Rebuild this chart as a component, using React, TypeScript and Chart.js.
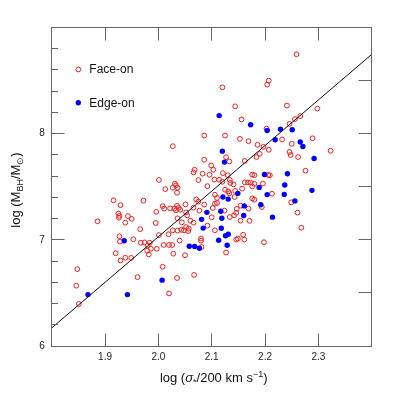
import React, { useEffect, useRef } from "react";
import { Chart, registerables } from "chart.js";

Chart.register(...registerables);

// ---- data ----
const faceOnX = [
  2.027, 2.001, 2.013, 2.027, 2.031, 2.036, 2.035, 2.033, 2.068, 2.066, 2.075,
  1.916, 1.972, 1.929, 1.886, 1.925, 1.927, 1.926, 1.943, 1.95, 1.938, 1.966,
  1.927, 1.928, 1.953, 1.967, 1.974, 1.92, 1.929, 1.938, 1.949, 1.982, 1.848,
  1.846, 1.851, 1.961, 1.996, 1.995, 2.008, 2.022, 2.035, 2.038, 2.03, 2.033,
  2.041, 2.051, 2.052, 2.054, 2.036, 2.044, 2.066, 2.06, 2.011, 2.027, 2.036,
  2.043, 2.048, 2.056, 2.019, 2.001, 2.04, 2.01, 2.02, 2.026, 1.997, 1.984,
  1.98, 1.986, 1.979, 2.028, 2.05, 2.067, 2.008, 2.035, 2.02, 2.086, 2.125,
  2.153, 2.086, 2.099, 2.103, 2.083, 2.096, 2.105, 2.121, 2.13, 2.114, 2.12,
  2.134, 2.135, 2.141, 2.162, 2.092, 2.125, 2.131, 2.133, 2.11, 2.11, 2.071,
  2.075, 2.144, 2.143, 2.066, 2.086, 2.102, 2.077, 2.124, 2.1, 2.154, 2.147,
  2.146, 2.142, 2.134, 2.157, 2.081, 2.08, 2.08, 2.092, 2.106, 2.052, 2.057,
  2.127, 2.159, 2.161, 2.146, 2.149, 2.154, 2.171, 2.106, 2.198, 2.176, 2.18,
  2.106, 2.259, 2.207, 2.204, 2.12, 2.144, 2.241, 2.298, 2.156, 2.256, 2.266,
  2.246, 2.203, 2.169, 2.232, 2.289, 2.25, 2.186, 2.197, 2.207, 2.323, 2.246,
  2.248, 2.262, 2.127, 2.19, 2.184, 2.133, 2.162, 2.276, 2.176, 2.18, 2.206,
  2.209, 2.168, 2.173, 2.18, 2.196, 2.176, 2.213, 2.249, 2.194, 2.169, 2.261,
  2.268,
];
const faceOnY = [
  7.881, 7.563, 7.477, 7.49, 7.528, 7.49, 7.443, 7.512, 7.659, 7.634, 7.562,
  7.371, 7.368, 7.326, 7.174, 7.247, 7.225, 7.208, 7.223, 7.197, 7.161, 7.1,
  7.033, 6.983, 7.005, 6.972, 6.975, 6.873, 6.805, 6.831, 6.829, 6.862, 6.723,
  6.568, 6.396, 6.648, 7.263, 7.158, 7.317, 7.296, 7.321, 7.3, 7.294, 7.277,
  7.282, 7.333, 7.258, 7.23, 7.202, 7.164, 7.161, 7.18, 7.293, 7.089, 7.086,
  7.094, 7.089, 7.082, 7.052, 7.044, 6.992, 6.951, 6.951, 6.951, 6.915, 6.972,
  6.948, 6.915, 6.897, 6.869, 6.854, 6.669, 6.746, 6.64, 6.495, 7.981, 7.981,
  7.95, 7.753, 7.7, 7.659, 7.622, 7.612, 7.566, 7.627, 7.608, 7.565, 7.546,
  7.563, 7.535, 7.521, 7.54, 7.505, 7.471, 7.455, 7.437, 7.394, 7.346, 7.38,
  7.359, 7.46, 7.402, 7.302, 7.331, 7.299, 7.274, 7.274, 7.211, 7.321, 7.291,
  7.254, 7.23, 7.214, 7.481, 6.932, 7.011, 6.991, 7.133, 7.089, 7.12, 7.105,
  6.88, 7.047, 7.002, 7.002, 7.011, 7.18, 7.178, 7.34, 6.977, 7.39, 7.377,
  7.424, 8.746, 8.498, 8.46, 8.435, 8.256, 8.263, 8.235, 8.133, 8.136, 8.164,
  8.091, 8.047, 7.928, 7.944, 7.955, 7.903, 7.894, 7.875, 7.847, 7.838, 7.826,
  7.798, 7.779, 7.777, 7.809, 7.779, 7.737, 7.742, 7.65, 7.613, 7.608, 7.61,
  7.608, 7.54, 7.54, 7.526, 7.529, 7.502, 7.434, 7.352, 7.308, 7.293, 7.255,
  7.113,
];
const edgeOnX = [
  2.114, 2.173, 2.229, 2.251, 2.204, 2.219, 2.266, 2.271, 2.12, 2.124, 2.292,
  2.199, 2.242, 2.237, 2.189, 2.149, 2.204, 2.236, 2.288, 2.121, 2.131, 2.256,
  2.192, 2.161, 2.16, 2.214, 2.091, 2.117, 2.119, 2.081, 2.084, 2.118, 2.131,
  2.126, 2.113, 2.058, 2.068, 2.077, 2.129, 1.936, 1.868, 1.942, 2.007,
];
const edgeOnY = [
  8.169, 8.082, 8.04, 8.035, 8.028, 7.942, 7.92, 7.878, 7.834, 7.731, 7.765,
  7.615, 7.622, 7.516, 7.493, 7.437, 7.425, 7.427, 7.465, 7.402, 7.383, 7.366,
  7.329, 7.319, 7.228, 7.213, 7.258, 7.268, 7.202, 7.192, 7.11, 7.108, 7.052,
  7.038, 6.995, 6.939, 6.936, 6.92, 6.948, 6.991, 6.484, 6.484, 6.62,
];
const fitX = [1.8, 2.4];
const fitY = [6.17, 8.745];

const seriesLabels = ["Face-on", "Edge-on"];
const xTickValues = [1.9, 2.0, 2.1, 2.2, 2.3];
const xTickLabels = ["1.9", "2.0", "2.1", "2.2", "2.3"];
const yTickValues = [6, 7, 8];
const yTickLabels = ["6", "7", "8"];

const FONT = "'Liberation Sans', Arial, Helvetica, sans-serif";
const RED = "#ff1a1a";
const BLUE = "#0000ff";
const FRAME = "#666666";

type Part = { text: string; size: number; dy?: number; italic?: boolean };

function drawParts(ctx: CanvasRenderingContext2D, parts: Part[], cx: number, baseY: number) {
  let total = 0;
  for (const p of parts) {
    ctx.font = `${p.italic ? "italic " : ""}${p.size}px ${FONT}`;
    total += ctx.measureText(p.text).width;
  }
  let x = cx - total / 2;
  ctx.textAlign = "left";
  ctx.textBaseline = "alphabetic";
  for (const p of parts) {
    ctx.font = `${p.italic ? "italic " : ""}${p.size}px ${FONT}`;
    ctx.fillText(p.text, x, baseY + (p.dy || 0));
    x += ctx.measureText(p.text).width;
  }
}

const decorPlugin = {
  id: "decor",
  afterDraw(chart: any) {
    const ctx: CanvasRenderingContext2D = chart.ctx;
    const xs = chart.scales.x;
    const ys = chart.scales.y;
    const { left, right, top, bottom } = chart.chartArea;
    const L = Math.floor(left) + 0.5;
    const R = Math.floor(right) + 0.5;
    const T = Math.floor(top) + 0.5;
    const B = Math.floor(bottom) + 0.5;
    ctx.save();
    ctx.strokeStyle = FRAME;
    ctx.lineWidth = 1;
    ctx.strokeRect(L, T, R - L, B - T);
    ctx.beginPath();
    // bottom & top ticks
    for (const v of xTickValues) {
      const px = Math.floor(xs.getPixelForValue(v)) + 0.5;
      ctx.moveTo(px, B);
      ctx.lineTo(px, B - 13);
      ctx.moveTo(px, T);
      ctx.lineTo(px, T + 13);
    }
    // left ticks (every 0.2, longer at integers)
    for (let i = 1; i < 15; i++) {
      const v = 6 + i * 0.2;
      const py = Math.floor(ys.getPixelForValue(v)) + 0.5;
      const isMajor = i % 5 === 0;
      ctx.moveTo(L, py);
      ctx.lineTo(L + (isMajor ? 13 : 6.5), py);
    }
    // right ticks (every 0.5)
    for (let i = 1; i < 6; i++) {
      const v = 6 + i * 0.5;
      const py = Math.floor(ys.getPixelForValue(v)) + 0.5;
      ctx.moveTo(R, py);
      ctx.lineTo(R - 13, py);
    }
    ctx.stroke();

    // axis titles
    ctx.fillStyle = "#111";
    drawParts(
      ctx,
      [
        { text: "log (", size: 13 },
        { text: "σ", size: 13, italic: true },
        { text: "*", size: 9, dy: 3 },
        { text: "/200 km s", size: 13 },
        { text: "−1", size: 9, dy: -5 },
        { text: ")", size: 13 },
      ],
      (left + right) / 2 + 2,
      382
    );
    ctx.save();
    ctx.translate(20, 190);
    ctx.rotate(-Math.PI / 2);
    drawParts(
      ctx,
      [
        { text: "log (M", size: 13 },
        { text: "BH", size: 9, dy: 3 },
        { text: "/M", size: 13 },
        { text: "⊙", size: 9, dy: 3 },
        { text: ")", size: 13 },
      ],
      0,
      0
    );
    ctx.restore();

    // legend
    const ds = chart.data.datasets;
    const entries = [
      { d: ds[2], y: 69.5 },
      { d: ds[1], y: 102.7 },
    ];
    for (const e of entries) {
      ctx.beginPath();
      ctx.arc(78.3, e.y, e.d.pointRadius, 0, Math.PI * 2);
      if (e.d.backgroundColor !== "transparent") {
        ctx.fillStyle = e.d.backgroundColor;
        ctx.fill();
      } else {
        ctx.strokeStyle = e.d.borderColor;
        ctx.lineWidth = 1;
        ctx.stroke();
      }
      ctx.fillStyle = "#111";
      ctx.font = `12px ${FONT}`;
      ctx.textAlign = "left";
      ctx.textBaseline = "middle";
      ctx.fillText(e.d.label, 89.3, e.y + 0.5);
    }
    ctx.restore();
  },
};

export default function App() {
  const canvasRef = useRef<HTMLCanvasElement | null>(null);

  useEffect(() => {
    const canvas = canvasRef.current;
    if (!canvas) return;
    const faceOn = faceOnX.map((x, i) => ({ x, y: faceOnY[i] }));
    const edgeOn = edgeOnX.map((x, i) => ({ x, y: edgeOnY[i] }));
    const fit = fitX.map((x, i) => ({ x, y: fitY[i] }));

    const chart = new Chart(canvas, {
      type: "scatter",
      data: {
        datasets: [
          {
            type: "line",
            label: "fit",
            data: fit,
            borderColor: "#111111",
            borderWidth: 1,
            pointRadius: 0,
            fill: false,
          } as any,
          {
            label: seriesLabels[1],
            data: edgeOn,
            backgroundColor: BLUE,
            borderColor: BLUE,
            borderWidth: 0,
            pointRadius: 2.7,
          },
          {
            label: seriesLabels[0],
            data: faceOn,
            backgroundColor: "transparent",
            borderColor: RED,
            borderWidth: 1,
            pointRadius: 2.4,
          },
        ],
      },
      options: {
        animation: false,
        responsive: false,
        devicePixelRatio: 1,
        events: [],
        layout: { padding: { top: 27.3, right: 27.3, left: 0, bottom: 0 } },
        plugins: { legend: { display: false }, tooltip: { enabled: false } },
        scales: {
          x: {
            type: "linear",
            min: 1.8,
            max: 2.4,
            grid: { display: false, drawTicks: false },
            border: { display: false },
            afterBuildTicks: (s: any) => {
              s.ticks = xTickValues.map((v) => ({ value: v }));
            },
            ticks: {
              autoSkip: false,
              maxRotation: 0,
              padding: 5,
              color: "#222",
              font: { size: 10, family: FONT },
              callback: (v: any) => {
                const i = xTickValues.findIndex((t) => Math.abs(t - Number(v)) < 1e-6);
                return i >= 0 ? xTickLabels[i] : "";
              },
            },
            afterFit: (s: any) => {
              s.height = 53;
            },
          },
          y: {
            type: "linear",
            min: 6,
            max: 9,
            grid: { display: false, drawTicks: false },
            border: { display: false },
            afterBuildTicks: (s: any) => {
              s.ticks = yTickValues.map((v) => ({ value: v }));
            },
            ticks: {
              autoSkip: false,
              padding: 7,
              color: "#222",
              font: { size: 10, family: FONT },
              callback: (v: any) => {
                const i = yTickValues.findIndex((t) => Math.abs(t - Number(v)) < 1e-6);
                return i >= 0 ? yTickLabels[i] : "";
              },
            },
            afterFit: (s: any) => {
              s.width = 51.7;
            },
          },
        },
      },
      plugins: [decorPlugin],
    });
    return () => chart.destroy();
  }, []);

  return (
    <div style={{ position: "fixed", left: 0, top: 0, width: 399, height: 399, background: "#fff" }}>
      <canvas ref={canvasRef} width={399} height={399} style={{ width: 399, height: 399, display: "block" }} />
    </div>
  );
}
